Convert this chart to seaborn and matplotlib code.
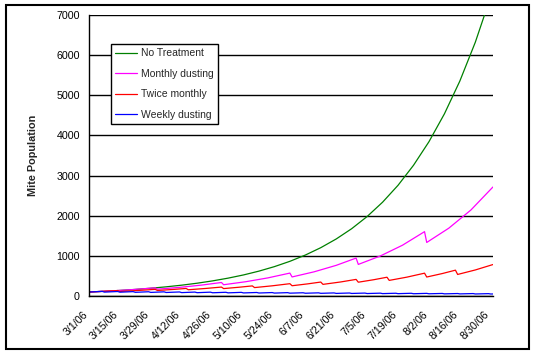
import numpy as np
import matplotlib
matplotlib.use("Agg")
import matplotlib.pyplot as plt
import matplotlib.transforms as mtransforms
from matplotlib.patches import Rectangle
import pandas as pd
import seaborn as sns

# mite counts, x = days after 3/1/06
none_days = [0, 7, 14, 21, 28, 35, 42, 49, 56, 63, 70, 77, 84, 91, 98, 105, 112,
             119, 126, 133, 140, 147, 154, 161, 168, 175, 182]
none_vals = [100, 118, 139, 164, 194, 229, 270, 319, 377, 445, 525, 620, 732, 864,
             1020, 1204, 1421, 1677, 1980, 2337, 2758, 3256, 3843, 4537, 5355, 6321, 7461]

monthly_days = [0, 10, 20, 30, 31, 41, 51, 60, 61, 71, 81, 91, 92, 102, 112, 121,
                122, 132, 142, 152, 153, 163, 173, 183]
monthly_vals = [100, 127, 161, 204, 170, 215, 272, 337, 281, 356, 451, 571, 475, 603,
                764, 945, 787, 998, 1265, 1603, 1334, 1690, 2142, 2716]

twice_days = [0, 7, 13, 14, 22, 30, 31, 38, 44, 45, 53, 60, 61, 68, 74, 75, 83, 91,
              92, 99, 105, 106, 114, 121, 122, 129, 135, 136, 144, 152, 153, 160,
              166, 167, 175, 183]
twice_vals = [100, 118, 136, 113, 137, 166, 138, 163, 188, 156, 189, 223, 185, 219,
              252, 210, 254, 307, 256, 302, 348, 290, 350, 414, 344, 406, 468, 389,
              470, 569, 473, 559, 644, 537, 649, 784]

weekly_days = [0, 6, 7, 13, 14, 20, 21, 27, 28, 34, 35, 41, 42, 48, 49, 55, 56, 62,
               63, 69, 70, 76, 77, 83, 84, 90, 91, 97, 98, 104, 105, 111, 112, 118,
               119, 125, 126, 132, 133, 139, 140, 146, 147, 153, 154, 160, 161, 167,
               168, 174, 175, 181, 182, 183]
weekly_vals = [100, 115, 97, 112, 95, 109, 92, 106, 90, 104, 88, 101, 85, 98, 83, 96,
               81, 93, 79, 91, 77, 88, 75, 86, 73, 84, 71, 81, 69, 79, 67, 77, 65, 75,
               64, 73, 62, 71, 60, 69, 59, 68, 57, 66, 56, 64, 54, 62, 53, 61, 51, 59,
               50, 51]

series_names = ["No Treatment", "Monthly dusting", "Twice monthly", "Weekly dusting"]
colors = ["#008000", "#FF00FF", "#FF0000", "#0000FF"]

start = pd.Timestamp("2006-03-01")
end = pd.Timestamp("2006-08-31")
tick_dates = pd.date_range("2006-03-01", "2006-08-30", freq="14D")

frames = []
for name, d, v in zip(series_names,
                      [none_days, monthly_days, twice_days, weekly_days],
                      [none_vals, monthly_vals, twice_vals, weekly_vals]):
    frames.append(pd.DataFrame({"date": start + pd.to_timedelta(d, unit="D"),
                                "mites": v, "series": name}))
df = pd.concat(frames, ignore_index=True)

sns.set_style("white")
plt.rcParams["font.family"] = ["Liberation Sans", "DejaVu Sans"]

fig = plt.figure(figsize=(5.37, 3.56), dpi=100)
ax = fig.add_axes([0.1657, 0.1685, 0.7523, 0.7894])

sns.lineplot(data=df, x="date", y="mites", hue="series", hue_order=series_names,
             palette=dict(zip(series_names, colors)), estimator=None,
             linewidth=0.9, ax=ax)

ax.set_ylim(0, 7000)
ax.set_yticks(range(0, 7001, 1000))
ax.set_xlim(start, end)
ax.set_xticks(tick_dates)
ax.set_xticklabels([f"{d.month}/{d.day}/{d:%y}" for d in tick_dates])

ax.yaxis.grid(True, color="black", linewidth=1.0)
ax.xaxis.grid(False)
ax.set_axisbelow(True)
for s in ["top", "right"]:
    ax.spines[s].set_visible(False)
for s in ["left", "bottom"]:
    ax.spines[s].set_color("black")
    ax.spines[s].set_linewidth(1.0)

ax.tick_params(axis="both", direction="out", length=3, width=1, color="black",
               labelsize=7.7, labelcolor="black")
ax.tick_params(axis="y", pad=3.5)
ax.tick_params(axis="x", pad=9)

offset = mtransforms.ScaledTranslation(-0.03, 0, fig.dpi_scale_trans)
for lab in ax.get_xticklabels():
    lab.set_rotation(45)
    lab.set_ha("right")
    lab.set_va("center")
    lab.set_rotation_mode("anchor")
    lab.set_transform(lab.get_transform() + offset)

ax.set_xlabel("")
ax.set_ylabel("Mite Population", fontsize=7.8, fontweight="bold")
ax.yaxis.set_label_coords(-0.125, 0.5)

handles, labels = ax.get_legend_handles_labels()
leg = ax.legend(handles, labels, loc="upper left", bbox_to_anchor=(0.054, 0.896),
                borderaxespad=0, fontsize=7.5, frameon=True, fancybox=False,
                shadow=False, edgecolor="black", framealpha=1,
                borderpad=0.4, labelspacing=1.0, handlelength=2.1,
                handletextpad=0.4)
leg.get_frame().set_linewidth(1.0)

fig.patches.append(Rectangle((0.0112, 0.0197), 0.974, 0.966, transform=fig.transFigure,
                             fill=False, edgecolor="black", linewidth=1.5))

fig.savefig("out.png", dpi=100)
